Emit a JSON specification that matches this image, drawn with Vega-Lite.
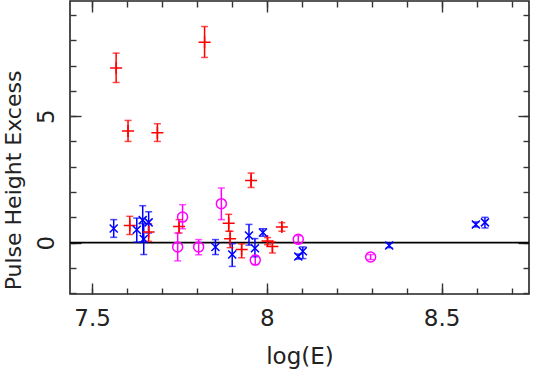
{
  "$schema": "https://vega.github.io/schema/vega-lite/v6.json",
  "width": 459,
  "height": 293,
  "autosize": "none",
  "padding": {"left": 70, "top": 1, "right": 6, "bottom": 85},
  "background": "white",
  "config": {
    "view": {"stroke": "#222", "strokeWidth": 1.6},
    "axis": {"grid": false, "domain": false, "labelFont": "DejaVu Sans", "titleFont": "DejaVu Sans", "labelColor": "#222", "titleColor": "#222", "tickColor": "#333", "tickWidth": 1.4, "titleFontWeight": "normal"}
  },
  "datasets": {
    "pts": [
      {"s": "red", "x": 7.569, "y": 6.90, "lo": 6.33, "hi": 7.49},
      {"s": "red", "x": 7.603, "y": 4.41, "lo": 4.00, "hi": 4.83},
      {"s": "red", "x": 7.687, "y": 4.34, "lo": 4.00, "hi": 4.70},
      {"s": "red", "x": 7.822, "y": 7.92, "lo": 7.32, "hi": 8.54},
      {"s": "red", "x": 7.608, "y": 0.68, "lo": 0.32, "hi": 1.04},
      {"s": "red", "x": 7.662, "y": 0.42, "lo": 0.05, "hi": 0.75},
      {"s": "red", "x": 7.749, "y": 0.64, "lo": 0.38, "hi": 0.91},
      {"s": "red", "x": 7.891, "y": 0.77, "lo": 0.45, "hi": 1.12},
      {"s": "red", "x": 7.895, "y": 0.15, "lo": -0.2, "hi": 0.45},
      {"s": "red", "x": 7.928, "y": -0.27, "lo": -0.6, "hi": -0.05},
      {"s": "red", "x": 7.955, "y": 2.46, "lo": 2.18, "hi": 2.75},
      {"s": "red", "x": 8.002, "y": 0.06, "lo": -0.08, "hi": 0.2},
      {"s": "red", "x": 8.016, "y": -0.15, "lo": -0.41, "hi": 0.03},
      {"s": "red", "x": 8.043, "y": 0.62, "lo": 0.45, "hi": 0.79},
      {"s": "blue", "x": 7.562, "y": 0.56, "lo": 0.21, "hi": 0.91},
      {"s": "blue", "x": 7.628, "y": 0.51, "lo": 0.02, "hi": 0.97},
      {"s": "blue", "x": 7.645, "y": 0.89, "lo": 0.03, "hi": 1.46},
      {"s": "blue", "x": 7.648, "y": 0.14, "lo": -0.47, "hi": 0.75},
      {"s": "blue", "x": 7.662, "y": 0.8, "lo": 0.38, "hi": 1.22},
      {"s": "blue", "x": 7.853, "y": -0.17, "lo": -0.47, "hi": 0.12},
      {"s": "blue", "x": 7.901, "y": -0.47, "lo": -0.94, "hi": -0.04},
      {"s": "blue", "x": 7.949, "y": 0.28, "lo": -0.1, "hi": 0.72},
      {"s": "blue", "x": 7.966, "y": -0.22, "lo": -0.56, "hi": 0.16},
      {"s": "blue", "x": 7.989, "y": 0.4, "lo": 0.25, "hi": 0.55},
      {"s": "blue", "x": 8.090, "y": -0.55, "lo": -0.65, "hi": -0.45},
      {"s": "blue", "x": 8.103, "y": -0.34, "lo": -0.63, "hi": -0.17},
      {"s": "blue", "x": 8.350, "y": -0.11, "lo": -0.2, "hi": -0.02},
      {"s": "blue", "x": 8.598, "y": 0.72, "lo": 0.62, "hi": 0.82},
      {"s": "blue", "x": 8.624, "y": 0.8, "lo": 0.58, "hi": 1.0},
      {"s": "magenta", "x": 7.745, "y": -0.17, "lo": -0.72, "hi": 0.38},
      {"s": "magenta", "x": 7.759, "y": 1.01, "lo": 0.55, "hi": 1.5},
      {"s": "magenta", "x": 7.805, "y": -0.17, "lo": -0.48, "hi": 0.12},
      {"s": "magenta", "x": 7.870, "y": 1.54, "lo": 0.91, "hi": 2.16},
      {"s": "magenta", "x": 7.967, "y": -0.69, "lo": -0.87, "hi": -0.51},
      {"s": "magenta", "x": 8.090, "y": 0.13, "lo": -0.01, "hi": 0.28},
      {"s": "magenta", "x": 8.297, "y": -0.57, "lo": -0.67, "hi": -0.47}
    ]
  },
  "data": {"name": "pts"},
  "resolve": {"axis": {"x": "independent", "y": "independent"}},
  "layer": [
    {
      "data": {"values": [{"z": 0}]},
      "mark": {"type": "rule", "color": "#000", "strokeWidth": 1.6},
      "encoding": {
        "y": {"field": "z", "type": "quantitative", "scale": {"domain": [-2.03, 9.55], "nice": false, "zero": false}, "axis": null}
      }
    },
    {
      "mark": {"type": "rule", "strokeWidth": 1.5},
      "encoding": {
        "x": {"field": "x", "type": "quantitative", "scale": {"domain": [7.437, 8.75], "nice": false, "zero": false},
              "axis": {"orient": "bottom", "values": [7.5, 8, 8.5], "format": "~g", "ticks": false, "labelFontSize": 23, "labelBaseline": "alphabetic", "labelPadding": 31, "labelFlush": false, "title": "log(E)", "titleFontSize": 23, "titleY": 62, "titleBaseline": "middle"}},
        "y": {"field": "lo", "type": "quantitative", "scale": {"domain": [-2.03, 9.55], "nice": false, "zero": false},
              "axis": {"orient": "left", "values": [0, 5], "format": "~g", "ticks": false, "labelAngle": 270, "labelAlign": "center", "labelBaseline": "alphabetic", "labelFontSize": 23, "labelPadding": 17, "labelFlush": false, "title": "Pulse Height Excess", "titleFontSize": 22, "titleX": -50, "titleY": 179, "titleBaseline": "alphabetic", "titleAlign": "center", "titleAngle": 270}},
        "y2": {"field": "hi"},
        "color": {"field": "s", "type": "nominal", "scale": {"domain": ["red", "blue", "magenta"], "range": ["#ff0000", "#0000ff", "#ff00ff"]}, "legend": null}
      }
    },
    {
      "mark": {"type": "tick", "orient": "horizontal", "size": 7, "thickness": 1.5},
      "encoding": {
        "x": {"field": "x", "type": "quantitative", "axis": {"orient": "bottom", "values": [7.5, 7.6, 7.7, 7.8, 7.9, 8, 8.1, 8.2, 8.3, 8.4, 8.5, 8.6, 8.7], "tickSize": -6, "labels": false, "title": null}},
        "y": {"field": "lo", "type": "quantitative", "axis": {"orient": "left", "values": [-2, -1, 0, 1, 2, 3, 4, 5, 6, 7, 8, 9], "tickSize": -6, "labels": false, "title": null}},
        "color": {"field": "s", "type": "nominal", "legend": null}
      }
    },
    {
      "mark": {"type": "tick", "orient": "horizontal", "size": 7, "thickness": 1.5},
      "encoding": {
        "x": {"field": "x", "type": "quantitative", "axis": {"orient": "bottom", "values": [7.5, 8, 8.5], "tickSize": -11, "labels": false, "title": null}},
        "y": {"field": "hi", "type": "quantitative", "axis": {"orient": "left", "values": [0, 5], "tickSize": -11, "labels": false, "title": null}},
        "color": {"field": "s", "type": "nominal", "legend": null}
      }
    },
    {
      "transform": [{"filter": "datum.s === 'red'"}],
      "mark": {"type": "point", "shape": "M-1,0L1,0M0,-1L0,1", "size": 144, "filled": false, "strokeWidth": 1.5, "opacity": 1},
      "encoding": {
        "x": {"field": "x", "type": "quantitative", "axis": {"orient": "top", "values": [7.5, 7.6, 7.7, 7.8, 7.9, 8, 8.1, 8.2, 8.3, 8.4, 8.5, 8.6, 8.7], "tickSize": -6, "labels": false, "title": null}},
        "y": {"field": "y", "type": "quantitative", "axis": {"orient": "right", "values": [-2, -1, 0, 1, 2, 3, 4, 5, 6, 7, 8, 9], "tickSize": -6, "labels": false, "title": null}},
        "color": {"field": "s", "type": "nominal", "legend": null}
      }
    },
    {
      "transform": [{"filter": "datum.s === 'blue'"}],
      "mark": {"type": "point", "shape": "M-1,-1L1,1M-1,1L1,-1", "size": 64, "filled": false, "strokeWidth": 1.5, "opacity": 1},
      "encoding": {
        "x": {"field": "x", "type": "quantitative", "axis": {"orient": "top", "values": [7.5, 8, 8.5], "tickSize": -11, "labels": false, "title": null}},
        "y": {"field": "y", "type": "quantitative", "axis": {"orient": "right", "values": [0, 5], "tickSize": -11, "labels": false, "title": null}},
        "color": {"field": "s", "type": "nominal", "legend": null}
      }
    },
    {
      "transform": [{"filter": "datum.s === 'magenta'"}],
      "mark": {"type": "point", "shape": "circle", "size": 100, "filled": false, "strokeWidth": 1.5, "opacity": 1},
      "encoding": {
        "x": {"field": "x", "type": "quantitative", "axis": null},
        "y": {"field": "y", "type": "quantitative", "axis": null},
        "color": {"field": "s", "type": "nominal", "legend": null}
      }
    }
  ]
}
